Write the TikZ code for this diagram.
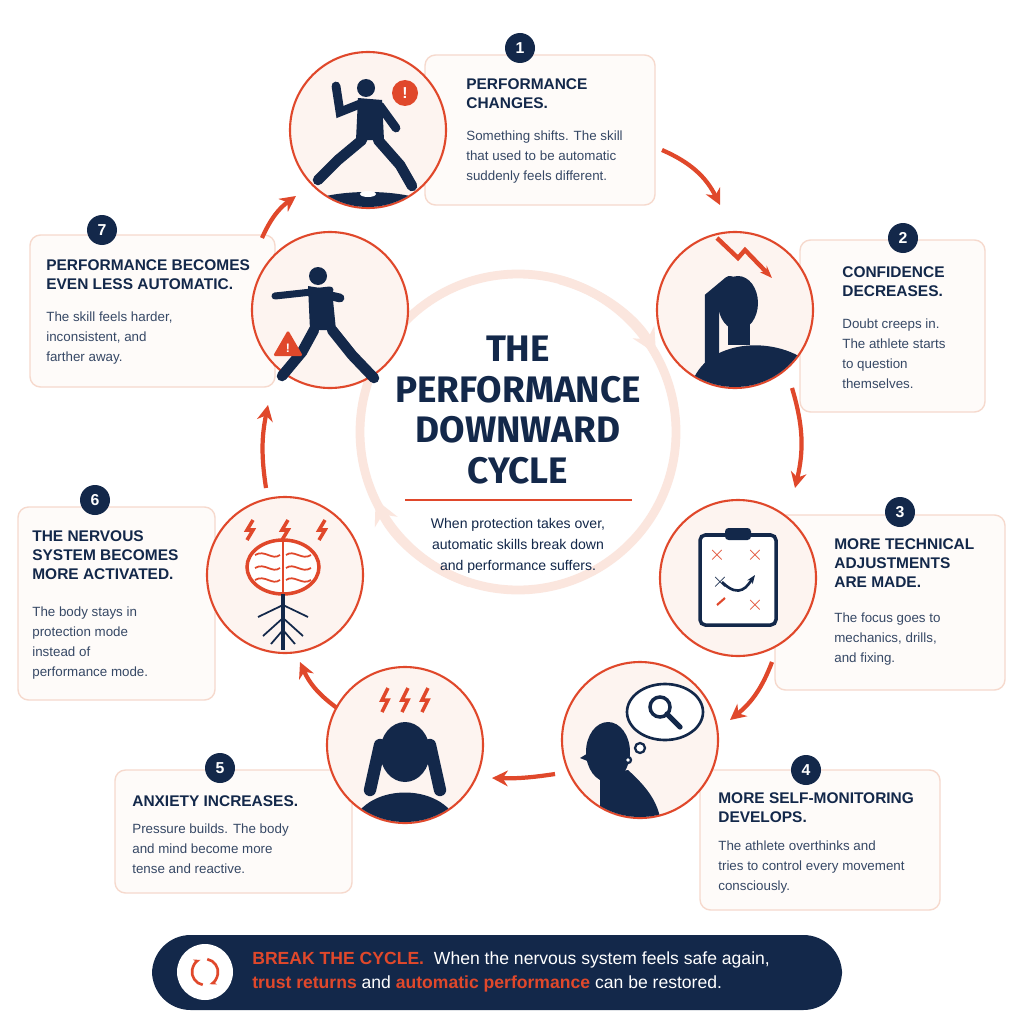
\documentclass[tikz,border=0pt]{standalone}
\usepackage{fontspec}
\setmainfont{Liberation Sans}
\newfontfamily\titlefont{Fira Sans}
\usetikzlibrary{arrows.meta}
\definecolor{navy}{HTML}{13284A}
\definecolor{rust}{HTML}{E0482B}
\definecolor{blush}{HTML}{FDF4F0}
\definecolor{edge}{HTML}{F6D9CD}
\definecolor{faint}{HTML}{FBE6DE}
\tikzset{
  stepcircle/.style={circle, draw=rust, line width=1.2pt, fill=blush, minimum size=156*0.02cm},
  stepbox/.style={draw=edge, line width=0.8pt, fill=blush!40, rounded corners=6pt},
  badge/.style={circle, fill=navy, text=white, font=\bfseries\small, minimum size=30*0.02cm, inner sep=0pt},
  head/.style={anchor=north west, align=left, font=\bfseries\fontsize{8.8}{11}\selectfont, text=navy, inner sep=0pt},
  body/.style={anchor=north west, align=left, font=\fontsize{7.6}{11.5}\selectfont, text=navy!85, inner sep=0pt},
  cyc/.style={-{Stealth[length=9pt,width=9pt]}, rust, line width=2.4pt},
  sil/.style={fill=navy, draw=none},
}
\begin{document}
\begin{tikzpicture}[x=0.02cm,y=-0.02cm]
        \useasboundingbox[fill=white] (0,0) rectangle (1024,1024);
        %CENTRE RING
        \draw[faint, line width=5pt] (518,432) circle (158);
        \draw[faint, -{Stealth[length=14pt,width=14pt]}, line width=5pt] (560,280) arc (-75:-30:158);
        \draw[faint, -{Stealth[length=14pt,width=14pt]}, line width=5pt] (470,583) arc (108:155:158);
        %TITLE
        \node[font=\titlefont\bfseries\fontsize{21}{23}\selectfont, text=navy, align=center] (title) at (518,410) {THE\\PERFORMANCE\\DOWNWARD\\CYCLE};
        \draw[rust, line width=1.3pt] (405,500) -- (632,500);
        \node[font=\fontsize{8}{12}\selectfont, text=navy, align=center] (sub) at (518,546) {When protection takes over,\\automatic skills break down\\and performance suffers.};
        %BOXES
        \draw[stepbox] (425,55) rectangle (655,205);
        \draw[stepbox] (800,240) rectangle (985,412);
        \draw[stepbox] (775,515) rectangle (1005,690);
        \draw[stepbox] (700,770) rectangle (940,910);
        \draw[stepbox] (115,770) rectangle (352,893);
        \draw[stepbox] (18,507) rectangle (215,700);
        \draw[stepbox] (30,235) rectangle (275,387);
        %CIRCLES
        \node[stepcircle] (c1) at (368,130) {};
        \node[stepcircle] (c2) at (735,310) {};
        \node[stepcircle] (c3) at (738,578) {};
        \node[stepcircle] (c4) at (640,740) {};
        \node[stepcircle] (c5) at (405,745) {};
        \node[stepcircle] (c6) at (285,575) {};
        \node[stepcircle] (c7) at (330,310) {};
        %TEXTS
        \node[badge] (n1) at (520,48) {1};
        \node[head] (h1) at (466,78) {PERFORMANCE\\CHANGES.};
        \node[body] (b1) at (466,130) {Something shifts. The skill\\that used to be automatic\\suddenly feels different.};
        \node[badge] (n2) at (903,238) {2};
        \node[head] (h2) at (842,266) {CONFIDENCE\\DECREASES.};
        \node[body] (b2) at (842,318) {Doubt creeps in.\\The athlete starts\\to question\\themselves.};
        \node[badge] (n3) at (900,512) {3};
        \node[head] (h3) at (834,538) {MORE TECHNICAL\\ADJUSTMENTS\\ARE MADE.};
        \node[body] (b3) at (834,612) {The focus goes to\\mechanics, drills,\\and fixing.};
        \node[badge] (n4) at (806,770) {4};
        \node[head] (h4) at (718,792) {MORE SELF-MONITORING\\DEVELOPS.};
        \node[body] (b4) at (718,840) {The athlete overthinks and\\tries to control every movement\\consciously.};
        \node[badge] (n5) at (220,768) {5};
        \node[head] (h5) at (132,795) {ANXIETY INCREASES.};
        \node[body] (b5) at (132,823) {Pressure builds. The body\\and mind become more\\tense and reactive.};
        \node[badge] (n6) at (95,500) {6};
        \node[head] (h6) at (32,530) {THE NERVOUS\\SYSTEM BECOMES\\MORE ACTIVATED.};
        \node[body] (b6) at (32,606) {The body stays in\\protection mode\\instead of\\performance mode.};
        \node[badge] (n7) at (102,230) {7};
        \node[head] (h7) at (46,259) {PERFORMANCE BECOMES\\EVEN LESS AUTOMATIC.};
        \node[body] (b7) at (46,311) {The skill feels harder,\\inconsistent, and\\farther away.};
        %CYCLE ARROWS
        \draw[cyc] (662,150) to[bend left=20] (720,205);
        \draw[cyc] (792,388) to[bend left=15] (795,488);
        \draw[cyc] (772,662) to[bend left=15] (730,720);
        \draw[cyc] (555,774) to[bend left=5] (492,778);
        \draw[cyc] (337,708) to[bend left=15] (300,662);
        \draw[cyc] (266,488) to[bend left=10] (268,405);
        \draw[cyc] (262,238) to[bend left=15] (296,196);
        %ICON 1 pitcher
        \begin{scope}
          \clip (368,130) circle (77);
          \fill[navy] (368,212) ellipse (70 and 20);
          \fill[white] (368,194) ellipse (8 and 3);
        \end{scope}
        \fill[navy] (366,88) circle (9);
        \fill[navy] (358,98) -- (382,100) -- (384,140) -- (356,140) -- cycle;
        \draw[navy, line width=5pt, line cap=round] (360,104) -- (340,112) -- (336,86);
        \draw[navy, line width=5pt, line cap=round] (380,106) -- (396,128);
        \draw[navy, line width=6pt, line cap=round] (362,140) -- (338,160) -- (318,180);
        \draw[navy, line width=6pt, line cap=round] (378,140) -- (400,165) -- (412,186);
        \node[circle, fill=rust, text=white, font=\bfseries\small, inner sep=1.5pt, minimum size=26*0.02cm] (ex1) at (405,93) {!};
        %ICON 2 doubt
        \begin{scope}
          \clip (735,310) circle (77);
          \fill[navy] (690,390) .. controls (700,340) and (770,335) .. (805,360) -- (810,390) -- cycle;
          \fill[navy] (738,303) ellipse (20 and 27);
          \fill[navy] (728,325) rectangle (750,345);
          \draw[navy, line width=8pt, line cap=round] (712,365) -- (712,298) -- (730,283);
        \end{scope}
        \draw[rust, line width=2.5pt, -{Stealth[length=7pt]}] (717,238) -- (738,258) -- (745,250) -- (772,278);
        %ICON 3 clipboard
        \draw[navy, line width=2pt, rounded corners=3pt, fill=white] (700,535) rectangle (776,625);
        \fill[navy, rounded corners=2pt] (725,528) rectangle (751,540);
        \foreach \p in {(717,555),(755,555),(755,605)}
          \node[rust, font=\bfseries\large] at \p {$\times$};
        \node[navy, font=\bfseries\large] at (720,582) {$\times$};
        \draw[navy, line width=1.5pt, -{Stealth[length=5pt]}] (722,582) .. controls (740,600) and (748,585) .. (755,575);
        \draw[rust, line width=1.2pt] (717,605) -- (725,598);
        %ICON 4 self monitoring
        \begin{scope}
          \clip (640,740) circle (77);
          \fill[navy] (608,752) ellipse (22 and 30);
          \fill[navy] (590,752) -- (580,758) -- (590,762) -- cycle;
          \fill[navy] (600,775) -- (628,770) .. controls (650,790) and (660,805) .. (662,830) -- (600,830) -- cycle;
        \end{scope}
        \draw[navy, line width=1.5pt, fill=white] (665,712) ellipse (38 and 28);
        \draw[navy, line width=1.3pt, fill=white] (640,748) circle (5);
        \draw[navy, line width=1.3pt, fill=white] (628,760) circle (3);
        \draw[navy, line width=2pt] (660,707) circle (10);
        \draw[navy, line width=3pt, line cap=round] (667,714) -- (680,727);
        %ICON 5 anxiety
        \begin{scope}
          \clip (405,745) circle (77);
          \fill[navy] (350,830) .. controls (360,780) and (450,780) .. (460,830) -- cycle;
          \fill[navy] (405,752) ellipse (25 and 30);
          \draw[navy, line width=7pt, line cap=round] (370,790) -- (380,745);
          \draw[navy, line width=7pt, line cap=round] (440,790) -- (430,745);
        \end{scope}
        \foreach \x in {385,405,425}
          \draw[rust, line width=2pt] (\x+3,688) -- (\x-3,700) -- (\x+3,700) -- (\x-3,712);
        %ICON 6 brain
        \draw[rust, line width=2pt, fill=white] (283,567) ellipse (36 and 27);
        \draw[rust, line width=1.3pt] (283,541) -- (283,593);
        \foreach \y in {555,568,580}
          \draw[rust, line width=1pt] (255,\y) .. controls (265,\y-6) and (272,\y+6) .. (280,\y) (286,\y) .. controls (294,\y-6) and (302,\y+6) .. (311,\y);
        \draw[navy, line width=2.5pt] (283,594) -- (283,650);
        \foreach \a in {-1,1}
          \draw[navy, line width=1pt] (283,605) -- ++(\a*25,12) (283,618) -- ++(\a*20,18) (283,630) -- ++(\a*12,14);
        \foreach \x in {250,285,322}
          \draw[rust, line width=2pt] (\x+3,520) -- (\x-3,530) -- (\x+3,530) -- (\x-3,540);
        %ICON 7 batter
        \fill[navy] (318,276) circle (9);
        \fill[navy] (308,286) -- (332,290) -- (336,330) -- (310,330) -- cycle;
        \draw[navy, line width=4pt, line cap=round] (275,296) -- (330,290);
        \draw[navy, line width=5pt, line cap=round] (314,292) -- (340,298);
        \draw[navy, line width=6pt, line cap=round] (314,330) -- (302,352) -- (282,376);
        \draw[navy, line width=6pt, line cap=round] (332,330) -- (352,355) -- (374,378);
        \fill[rust, rounded corners=1pt] (273,356) -- (288,330) -- (303,356) -- cycle;
        \node[white, font=\bfseries\scriptsize] at (288,348) {!};
        %BANNER
        \fill[navy, rounded corners=22pt] (152,935) rectangle (842,1010);
        \node[circle, fill=white, minimum size=56*0.02cm] (ico) at (205,972) {};
        \draw[rust, line width=1.5pt, -{Stealth[length=4pt]}] (205,972) ++(100:13) arc (100:250:13);
        \draw[rust, line width=1.5pt, -{Stealth[length=4pt]}] (205,972) ++(280:13) arc (280:430:13);
        \node[anchor=west, font=\fontsize{10}{14}\selectfont, text=white, align=left, inner sep=0pt] (msg) at (252,972)
          {{\color{rust}\bfseries BREAK THE CYCLE.}\ \ When the nervous system feels safe again,\\{\color{rust}\bfseries trust returns} and {\color{rust}\bfseries automatic performance} can be restored.};
\end{tikzpicture}
\end{document}
